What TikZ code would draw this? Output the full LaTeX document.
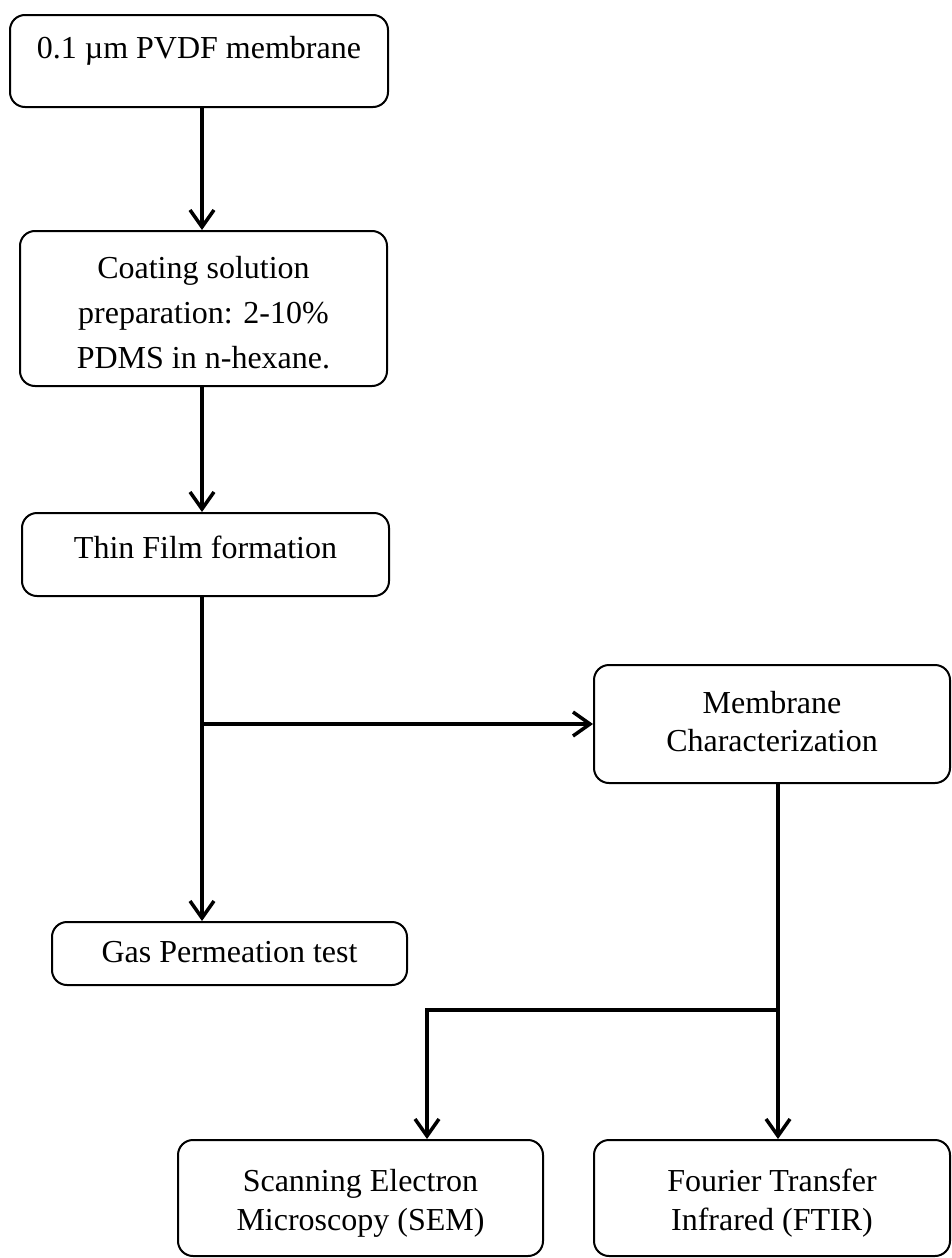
\documentclass[tikz,border=0pt]{standalone}
\usepackage{fontspec}
\setmainfont{Liberation Serif}
\usetikzlibrary{arrows.meta}
\newcommand\btxt[5]{\parbox[c][#2][t]{#1}{\centering\fontsize{32}{#4}\selectfont\rule{0pt}{#3}#5}}
\begin{document}
\begin{tikzpicture}[x=1pt,y=-1pt,
  box/.style={draw, line width=2pt, rounded corners=15pt, inner sep=0pt},
  arr/.style={line width=3.5pt, -{Straight Barb[length=17pt,width=24pt]}}]
\useasboundingbox (0,0) rectangle (952,1258);
\node[box] (b1) at (199,61) {\btxt{378pt}{92pt}{43pt}{45pt}{0.1 µm PVDF membrane}};
\node[box] (b2) at (203.5,308.5) {\btxt{367pt}{155pt}{47pt}{45pt}{Coating solution\\preparation: 2-10\%\\PDMS in n-hexane.}};
\node[box] (b3) at (205.5,554.5) {\btxt{367pt}{83pt}{45pt}{45pt}{Thin Film formation}};
\node[box] (b4) at (772,724) {\btxt{356pt}{118pt}{48pt}{38pt}{Membrane\\Characterization}};
\node[box] (b5) at (229.5,953.5) {\btxt{355pt}{63pt}{40pt}{38pt}{Gas Permeation test}};
\node[box] (b6) at (360.5,1198) {\btxt{365pt}{116pt}{51pt}{39pt}{Scanning Electron\\Microscopy (SEM)}};
\node[box] (b7) at (772,1198) {\btxt{356pt}{116pt}{51pt}{39pt}{Fourier Transfer\\Infrared (FTIR)}};
\coordinate (mx) at (202,0);
\coordinate (fx) at (778,0);
\coordinate (sx) at (427,0);
\coordinate (hy) at (0,1010);
\draw[arr] (b1.south -| mx) -- (b2.north -| mx);
\draw[arr] (b2.south -| mx) -- (b3.north -| mx);
\draw[arr] (b3.south -| mx) -- (b5.north -| mx);
\coordinate (j1) at (mx |- b4.west);
\draw[arr] (j1) -- (b4.west);
\draw[arr] (b4.south -| fx) -- (b7.north -| fx);
\coordinate (j2) at (fx |- hy);
\draw[arr] (j2) -| (b6.north -| sx);
\end{tikzpicture}
\end{document}
